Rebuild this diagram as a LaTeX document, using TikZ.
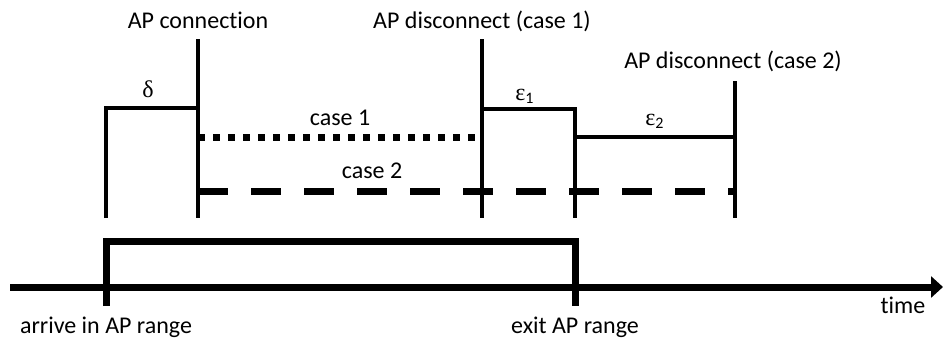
\documentclass[tikz,border=0pt]{standalone}
\usepackage{fontspec}
\setmainfont[Ligatures=NoCommon]{Carlito}
\newfontfamily\greekfont{Liberation Serif}
\usetikzlibrary{arrows.meta}

\tikzset{
  thinline/.style={line width=1.7pt},
  thickline/.style={line width=3.5pt},
  lbl/.style={inner sep=0pt, anchor=base, font=\fontsize{12}{14}\selectfont}
}

\begin{document}
\begin{tikzpicture}[x=0.5pt,y=-0.5pt]
\useasboundingbox (0,0) rectangle (943,339);

% event points
\coordinate (conTop) at (198,39);
\coordinate (conBot) at (198,218);
\coordinate (disOneTop) at (482,39);
\coordinate (disOneBot) at (482,218);
\coordinate (disTwoTop) at (735,81);
\coordinate (disTwoBot) at (735,218);
\coordinate (deltaBot) at (106,218);
\coordinate (epsBot) at (575,218);

% time axis and AP range
\coordinate (axisL) at (10,287);
\coordinate (axisR) at (943,287);
\coordinate (arrive) at (106,306);
\coordinate (exit) at (575,306);
\draw[thickline,-{Triangle[length=6pt,width=10.5pt]}] (axisL) -- (axisR);
\draw[thickline] (arrive) -- ++(0,-65) -| (exit);

% event lines
\draw[thinline] (conTop) -- (conBot);
\draw[thinline] (disOneTop) -- (disOneBot);
\draw[thinline] (disTwoTop) -- (disTwoBot);
\draw[thinline] (deltaBot) |- (198,108);
\draw[thinline] (disOneBot |- 0,109) -| (epsBot);
\draw[thinline] (epsBot |- 0,137) -- (disTwoBot |- 0,137);

% cases
\draw[line width=3.5pt,dash pattern=on 3.5pt off 4pt] (conBot |- 0,137) -- (disOneBot |- 0,137);
\draw[line width=3.5pt,dash pattern=on 15pt off 11.5pt] (conBot |- 0,191) -- (disTwoBot |- 0,191);

% labels
\node[lbl] (conLbl) at (198,28) {AP connection};
\node[lbl] (disOneLbl) at (482,28) {AP disconnect (case 1)};
\node[lbl] (disTwoLbl) at (733,68) {AP disconnect (case 2)};
\node[lbl] (deltaLbl) at (148,97) {\greekfont δ};
\node[lbl] (epsOneLbl) at (525,100) {{\greekfont ε}\textsubscript{1}};
\node[lbl] (epsTwoLbl) at (655,125) {{\greekfont ε}\textsubscript{2}};
\node[lbl] (caseOneLbl) at (340,125) {case 1};
\node[lbl] (caseTwoLbl) at (372,178) {case 2};
\node[lbl] (arriveLbl) at (106,333) {arrive in AP range};
\node[lbl] (exitLbl) at (575,333) {exit AP range};
\node[lbl] (timeLbl) at (903,313) {time};
\end{tikzpicture}
\end{document}
